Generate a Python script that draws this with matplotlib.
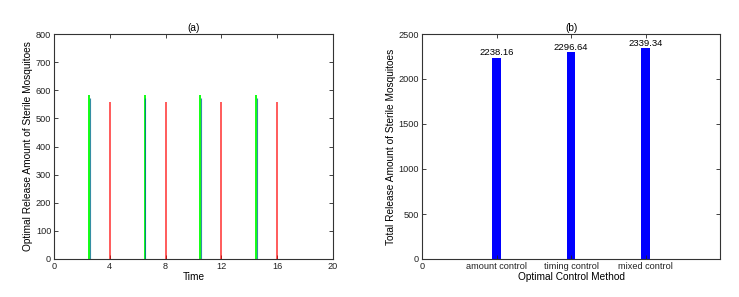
import matplotlib.pyplot as plt

# panel (a): release impulses
green_t = [2.5, 6.5, 10.5, 14.5]
green_u = [583, 583, 583, 583]
blue_t = [2.55, 6.55, 10.55, 14.55]
blue_u = [572, 572, 572, 572]
red_t = [4, 8, 12, 16]
red_u = [558, 558, 558, 558]

# panel (b): totals
methods = ["amount control", "timing control", "mixed control"]
totals = [2238.16, 2296.64, 2339.34]

plt.rcParams['font.family'] = ['Liberation Sans', 'DejaVu Sans']

fig = plt.figure(figsize=(7.39, 2.97), dpi=100)
W, H = 739.0, 297.0
ax1 = fig.add_axes([54 / W, 1 - 259 / H, (333 - 54) / W, (259 - 34) / H])
ax2 = fig.add_axes([422 / W, 1 - 259 / H, (720 - 422) / W, (259 - 34) / H])

tick_fs = 6.6
lab_fs = 7.3

ax1.vlines(green_t, 0, green_u, color=(0, 1, 0), lw=1.3)
ax1.vlines(blue_t, 0, blue_u, color=(0, 0.45, 0.55), lw=0.8, alpha=0.8)
ax1.vlines(red_t, 0, red_u, color=(1, 0, 0), lw=1.2, alpha=0.75)
ax1.set_xlim(0, 20)
ax1.set_ylim(0, 800)
ax1.set_xticks([0, 4, 8, 12, 16, 20])
ax1.set_yticks(range(0, 801, 100))
ax1.set_xlabel("Time", fontsize=lab_fs, labelpad=1)
ax1.set_ylabel("Optimal Release Amount of Sterile Mosquitoes", fontsize=lab_fs, labelpad=2)
ax1.set_title("(a)", fontsize=lab_fs, pad=2)

x = [1, 2, 3]
ax2.bar(x, totals, width=0.12, color=(0, 0, 1))
for xi, v in zip(x, totals):
    ax2.text(xi, v + 5, "%.2f" % v, ha="center", va="bottom", fontsize=6.8)
ax2.set_xlim(0, 4)
ax2.set_ylim(0, 2500)
ax2.set_xticks([0] + x)
ax2.set_xticklabels(["0"] + methods)
ax2.set_yticks(range(0, 2501, 500))
ax2.set_xlabel("Optimal Control Method", fontsize=lab_fs, labelpad=1)
ax2.set_ylabel("Total Release Amount of Sterile Mosquitoes", fontsize=lab_fs, labelpad=2)
ax2.set_title("(b)", fontsize=lab_fs, pad=2)

for ax in (ax1, ax2):
    ax.tick_params(direction="in", top=True, right=True, labelsize=tick_fs,
                   length=3, width=0.6, pad=2, colors="#222222")
    for s in ax.spines.values():
        s.set_linewidth(0.8)
        s.set_color("#333333")

fig.savefig("out.png", dpi=100)
